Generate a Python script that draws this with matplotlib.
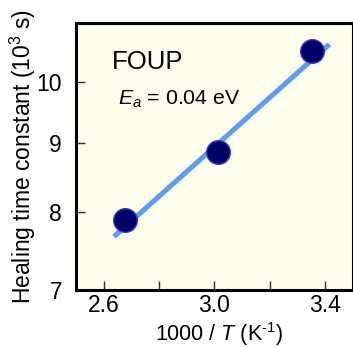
import matplotlib
matplotlib.use("Agg")
import matplotlib.pyplot as plt
from matplotlib.ticker import FixedLocator, NullLocator, FixedFormatter

plt.rcParams['font.family'] = ['Liberation Sans', 'DejaVu Sans']
plt.rcParams['mathtext.fontset'] = 'custom'
plt.rcParams['mathtext.rm'] = 'Liberation Sans'
plt.rcParams['mathtext.it'] = 'Liberation Sans:italic'

# data
inv_T = [2.677, 3.012, 3.351]
tau = [7.89, 8.86, 10.53]
fit_x = [2.637, 3.415]
fit_y = [7.67, 10.66]
xticks = [2.6, 3.0, 3.4]
xticklabels = ['2.6', '3.0', '3.4']
xminor = [2.8, 3.2]
yticks = [7, 8, 9, 10]
yticklabels = ['7', '8', '9', '10']

fig = plt.figure(figsize=(3.53, 3.47), dpi=100)
ax = fig.add_axes([0.215, 0.164, 0.785, 0.769])
ax.set_facecolor('#fdfdee')

ax.plot(fit_x, fit_y, color='#5c9cf2', lw=3.6, solid_capstyle='butt', zorder=2)
ax.plot(inv_T, tau, 'o', ms=17, mfc='#000066', mec='#2a3ae0', mew=1.0, zorder=3)

ax.set_yscale('log')
ax.set_xlim(2.5, 3.5)
ax.set_ylim(7, 11.05)
ax.yaxis.set_major_locator(FixedLocator(yticks))
ax.yaxis.set_major_formatter(FixedFormatter(yticklabels))
ax.yaxis.set_minor_locator(NullLocator())
ax.xaxis.set_major_locator(FixedLocator(xticks))
ax.xaxis.set_major_formatter(FixedFormatter(xticklabels))
ax.xaxis.set_minor_locator(FixedLocator(xminor))

for s in ax.spines.values():
    s.set_linewidth(2.2)
ax.tick_params(axis='both', which='both', direction='in', labelsize=16.5, width=1.0, color='#333333')
ax.tick_params(axis='both', which='major', length=6.5)
ax.tick_params(axis='x', which='minor', length=6.5)
ax.tick_params(axis='y', which='major', pad=10)
ax.tick_params(axis='x', which='major', pad=3)

fig.text(0.215 + 0.785 * 0.516, 1 - 340.5 / 347, r'1000 / $\mathit{T}$ (K$^{\text{-}1}$)',
         fontsize=15.5, ha='center', va='baseline')
ax.set_ylabel(r'Healing time constant (10$^3$ s)', fontsize=16.5, labelpad=-1)

ax.text(0.13, 0.90, 'FOUP', transform=ax.transAxes, fontsize=18.5, va='top', ha='left')
ax.text(0.152, 0.755, r'$\mathit{E}_{\mathit{a}}$ = 0.04 eV', transform=ax.transAxes, fontsize=15.3, va='top', ha='left')

fig.savefig('out.png', dpi=100, facecolor='white')
